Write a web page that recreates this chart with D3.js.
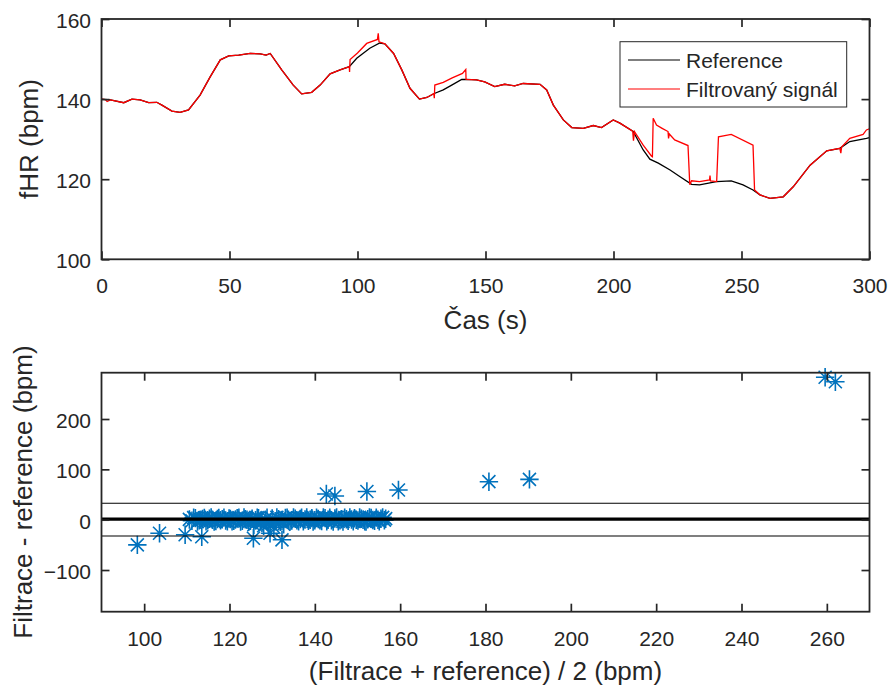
<!DOCTYPE html>
<html>
<head>
<meta charset="utf-8">
<script src="https://cdn.jsdelivr.net/npm/d3@7"></script>
<style>
  body { margin: 0; background: #fff; }
  text { font-family: "Liberation Sans", Arial, sans-serif; fill: #262626; }
</style>
</head>
<body>
<svg id="chart" width="889" height="687"></svg>
<script>
// reference fHR (black)
const refT = [0, 3.5, 8.7, 11.9, 15.1, 18.4, 21.6, 23.6, 27.5, 30.7, 34, 38.5, 42.5, 46.4, 49.7, 53.6, 58.1, 62, 64.3, 65.9,
  70.4, 74.9, 78.2, 82.1, 85.4, 89.3, 93.2, 96.8, 99.7, 104.8, 108.7, 110.7, 114.1, 117.3, 120.5, 124.2, 127.1, 130,
  133.5, 136.8, 140.7, 142.5, 146.5, 149.7, 153.6, 157.5, 161.4, 164.7, 171.3, 173.9, 176.5, 180.4, 183.7, 188.2,
  192.1, 195.3, 199.9, 202.5, 207.7, 211.6, 214.2, 217.5, 222.1, 226, 230.5, 233.6, 240.2, 246, 250.6, 254.5, 257.2,
  261.1, 266.3, 270.2, 276.8, 283.3, 288.4, 292.3, 298.8, 300];
const refV = [140, 139.8, 139.1, 140, 139.8, 139.1, 139.2, 138.5, 137, 136.7, 137.3, 141, 145.6, 149.8, 150.8, 151, 151.4, 151.3, 151, 151.4,
  147.3, 143.5, 141.3, 141.7, 143.5, 146.3, 147.3, 148.1, 150.2, 152.7, 154, 153.8, 151.4, 147.3, 142.7, 140, 140.4, 141.4,
  142.3, 143.5, 144.9, 144.9, 144.8, 144.3, 143.1, 143.7, 143.3, 143.9, 143.7, 142.3, 138.5, 134.8, 132.9, 132.7,
  133.4, 132.9, 134.8, 134, 131.9, 127.3, 125, 124, 122.3, 120.6, 118.7, 118.6, 119.4, 119.6, 118.6, 117.3, 116.1,
  115.2, 115.6, 118.1, 123.5, 127.1, 127.7, 129.4, 130.2, 130.4];

// filtered signal (red)
const filT = [0, 1.5, 2.2, 3.5, 8.7, 11.9, 15.1, 18.4, 21.6, 23.6, 27.5, 30.7, 34, 38.5, 42.5, 46.4, 49.7, 53.6, 58.1, 62, 64.3, 65.9,
  70.4, 74.9, 78.2, 82.1, 85.4, 89.3, 93.2, 96.8, 96.9, 97.1, 100, 103.6, 107.8, 108.1, 108.4, 110.7, 114.1, 117.3, 120.5,
  124.2, 127.1, 129.8, 130, 130.2, 133.5, 137, 141, 142.3, 142.4, 146.5, 149.7, 153.6, 157.5, 161.4, 164.7, 171.3, 173.9,
  176.5, 180.4, 183.7, 188.2, 192.1, 195.3, 199.9, 202.5, 207.5, 207.8, 208.2, 211.6, 214.8, 215.2, 215.5, 216.8, 219,
  221.3, 221.5, 221.8, 223.9, 229.1, 229.8, 230.5, 233.6, 237.5, 237.7, 237.9, 240.3, 241, 246, 254.5, 255.1, 257.2,
  261.1, 266.3, 270.2, 276.8, 283.3, 288.4, 288.8, 289.1, 292.3, 297.5, 298.8, 300];
const filV = [140, 139.9, 139.4, 139.8, 139.1, 140, 139.8, 139.1, 139.2, 138.5, 137, 136.7, 137.3, 141, 145.6, 149.8, 150.8, 151, 151.4, 151.3, 151, 151.4,
  147.3, 143.5, 141.3, 141.7, 143.5, 146.3, 147.3, 148.1, 146.8, 149.9, 151.5, 153.9, 154.9, 156.4, 154.3, 153.8, 151.4, 147.3, 142.7,
  140, 140.4, 141.4, 140.2, 143.5, 144.2, 145.3, 146.4, 147.4, 144.9, 144.8, 144.3, 143.1, 143.7, 143.3, 143.9, 143.7, 142.3,
  138.5, 134.8, 132.9, 132.7, 133.4, 132.9, 134.8, 134, 132, 129.6, 131.9, 128.5, 125.8, 125.6, 135.2, 133.5, 132.7,
  131.9, 130.2, 131.3, 129.8, 128.4, 118.6, 119.6, 119.4, 119.8, 120.9, 119.6, 119.4, 130.6, 131.2, 128.5, 117.3, 116.1,
  115.2, 115.6, 118.1, 123.5, 127.1, 127.7, 126.5, 128, 130.2, 131.2, 132.3, 132.6];

// Bland-Altman: mean (x) and difference (y)
const baX = [110.6, 111.2, 112.0, 112.9, 113.7, 114.5, 115.3, 116.0, 116.8, 117.5, 118.3, 119.1, 119.9, 120.6, 121.4, 122.2,
  123.0, 123.7, 124.5, 125.3, 126.1, 126.8, 127.6, 128.4, 129.2, 130.0, 130.7, 131.5, 132.3, 133.1, 133.8, 134.6, 135.4,
  136.2, 136.9, 137.7, 138.5, 139.3, 140.0, 140.8, 141.6, 142.4, 143.1, 143.9, 144.7, 145.5, 146.2, 147.0, 147.8, 148.6,
  149.3, 150.1, 150.9, 151.7, 152.4, 153.2, 154.0, 154.8, 155.5, 156.3,
  111.6, 112.5, 113.3, 114.1, 114.9, 115.7, 116.4, 117.2, 117.9, 118.7, 119.5, 120.2, 121.0, 121.8, 122.6, 123.4,
  124.1, 124.9, 125.7, 126.5, 127.2, 128.0, 128.8, 129.6, 130.4, 131.1, 131.9, 132.7, 133.5, 134.2, 135.0, 135.8,
  136.6, 137.3, 138.1, 138.9, 139.6, 140.4, 141.2, 142.0, 142.8, 143.5, 144.3, 145.1, 145.9, 146.6, 147.4, 148.2,
  149.0, 149.7, 150.5, 151.3, 152.0, 152.8, 153.6, 154.4, 155.1, 155.9, 156.6,
  98.4, 103.6, 109.6, 113.5, 125.6, 129.5, 132.3, 142.7, 144.7, 152.2, 159.6, 180.8, 190.3, 259.6, 262.0];
const baY = [0.5, -2, 3, -1, 1.5, -3, 2, 0, -2.5, 3.5, 1, -1.5, 2.5, -3, 0.5, 4,
  -2, 1, -4, 2, -1, 3, -6, 0, -8, 2.5, -3, 1, -2, 3.5, 0, -1.5, 2,
  -3, 4, 0.5, -2, 3, -1, 1.5, -2.5, 3, 0, -1, 2.5, -3, 1, 4, -2, 0.5,
  3, -1.5, 2, -3, 1, 3.5, -2, 0, 2, -1,
  4, -3.5, 0, 3.5, -1, 4.5, -3.5, 1.5, -1, 4, -3, 1.5, -2, 3, -3.5, 4.5,
  0, -2, -10, 4, -3, -12, 4, -5, -15, 4.5, -4, -9, 4, -3, 4.5, -1,
  1.5, -3, 4.5, 0, -3.5, 4, -1, 4.5, -3, 4, -3.5, 4.5, -1, -3.5, 1, 4.5,
  -3, 0, 4.5, 0, -3.5, 4.5, -0.5, 4, -3, 4.5, 2,
  -50, -27, -30, -34, -37, -27, -40, 51, 47, 56, 59, 75.5, 80, 283, 274];
const baMean = 1;
const baLimits = [32.6, -32.4];

const xTicksTop = [0, 50, 100, 150, 200, 250, 300];
const yTicksTop = [100, 120, 140, 160];
const xTicksBot = [100, 120, 140, 160, 180, 200, 220, 240, 260];
const yTicksBot = [-100, 0, 100, 200];

const svg = d3.select('#chart');
svg.append('rect').attr('width', 889).attr('height', 687).attr('fill', '#fff');

const L = 101.5, R = 869.5;
const ink = '#262626';

function frame(g, x, y, xt, yt) {
  const [y0, y1] = y.range();
  const xa = d3.axisBottom(x).tickValues(xt).tickSize(-8).tickPadding(19).tickFormat(d3.format('d'));
  const ya = d3.axisLeft(y).tickValues(yt).tickSize(-8).tickPadding(10.5).tickFormat(d3.format('d'));
  g.append('g').attr('transform', `translate(0,${y0})`).call(xa);
  const gy = g.append('g').attr('transform', `translate(${L},0)`).call(ya);
  g.append('g').attr('transform', `translate(0,${y1})`)
    .call(d3.axisTop(x).tickValues(xt).tickSize(-8).tickFormat(''));
  g.append('g').attr('transform', `translate(${R},0)`)
    .call(d3.axisRight(y).tickValues(yt).tickSize(-8).tickFormat(''));
  g.selectAll('.domain').remove();
  g.selectAll('.tick line').attr('stroke', ink).attr('stroke-width', 1.7);
  g.selectAll('.tick text').style('font-size', '21px').attr('fill', ink)
    .style('font-family', '"Liberation Sans", Arial, sans-serif');
  gy.selectAll('.tick text').attr('dy', '0.41em');
  g.append('rect').attr('x', L).attr('y', y1).attr('width', R - L).attr('height', y0 - y1)
    .attr('fill', 'none').attr('stroke', ink).attr('stroke-width', 1.8);
}

// ---- top: time course
const x1 = d3.scaleLinear().domain([0, 300]).range([L, R]);
const y1 = d3.scaleLinear().domain([100, 160]).range([259.3, 19]);
const topG = svg.append('g');

const line1 = d3.line().x(d => x1(d[0])).y(d => y1(d[1]));
topG.append('path').datum(refT.map((t, i) => [t, refV[i]]))
  .attr('d', line1).attr('fill', 'none').attr('stroke', '#000').attr('stroke-width', 1.3);
topG.append('path').datum(filT.map((t, i) => [t, filV[i]]))
  .attr('d', line1).attr('fill', 'none').attr('stroke', '#ff0000').attr('stroke-width', 1.3);

frame(topG, x1, y1, xTicksTop, yTicksTop);

topG.append('text').attr('x', (L + R) / 2).attr('y', 329).attr('text-anchor', 'middle')
  .style('font-size', '26px').text('Čas (s)');
topG.append('text').attr('transform', `translate(37.5,139) rotate(-90)`).attr('text-anchor', 'middle')
  .style('font-size', '26px').text('fHR (bpm)');

// legend
const lg = topG.append('g');
lg.append('rect').attr('x', 620).attr('y', 41.7).attr('width', 226.7).attr('height', 65.3)
  .attr('fill', '#fff').attr('stroke', ink).attr('stroke-width', 1);
[['Reference', '#000', 60], ['Filtrovaný signál', '#ff0000', 89]].forEach(([name, c, ly]) => {
  lg.append('line').attr('x1', 628).attr('x2', 680).attr('y1', ly).attr('y2', ly)
    .attr('stroke', c).attr('stroke-width', 1.2);
  lg.append('text').attr('x', 686).attr('y', ly).attr('dy', '0.36em')
    .style('font-size', '21px').attr('fill', '#000').text(name);
});

// ---- bottom: Bland-Altman
const x2 = d3.scaleLinear().domain([90, 270]).range([L, R]);
const y2 = d3.scaleLinear().domain([-182.8, 292]).range([611.7, 372.7]);
const botG = svg.append('g');

const r = 9.2, d = 6.5;
const star = `M${-r},0H${r}M0,${-r}V${r}M${-d},${-d}L${d},${d}M${-d},${d}L${d},${-d}`;
botG.append('g').selectAll('path').data(baX.map((v, i) => [v, baY[i]])).join('path')
  .attr('transform', p => `translate(${x2(p[0])},${y2(p[1])})`)
  .attr('d', star).attr('fill', 'none').attr('stroke', '#0072BD').attr('stroke-width', 1.6);

botG.append('line').attr('x1', L).attr('x2', R).attr('y1', y2(baMean)).attr('y2', y2(baMean))
  .attr('stroke', '#000').attr('stroke-width', 3.2);
botG.selectAll('.lim').data(baLimits).join('line').attr('class', 'lim')
  .attr('x1', L).attr('x2', R).attr('y1', v => y2(v)).attr('y2', v => y2(v))
  .attr('stroke', '#000').attr('stroke-width', 1.2);

frame(botG, x2, y2, xTicksBot, yTicksBot);

botG.append('text').attr('x', (L + R) / 2).attr('y', 680).attr('text-anchor', 'middle')
  .style('font-size', '26px').text('(Filtrace + reference) / 2 (bpm)');
botG.append('text').attr('transform', `translate(31.8,492) rotate(-90)`).attr('text-anchor', 'middle')
  .style('font-size', '26px').text('Filtrace - reference (bpm)');
</script>
</body>
</html>
